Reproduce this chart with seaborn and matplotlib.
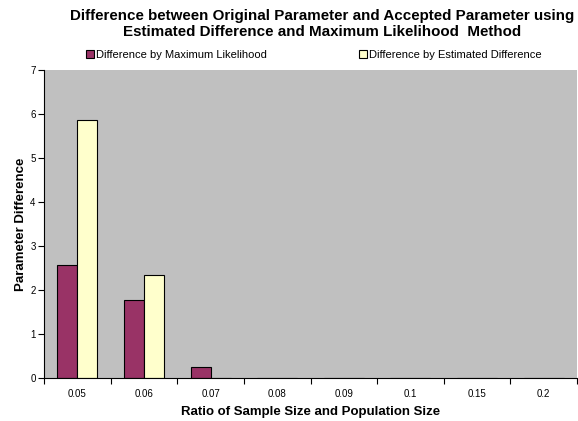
import matplotlib
matplotlib.use("Agg")
import matplotlib.pyplot as plt
import seaborn as sns
import pandas as pd
import numpy as np

categories = ["0.05", "0.06", "0.07", "0.08", "0.09", "0.1", "0.15", "0.2"]
ml_values = [2.56, 1.78, 0.26, 0, 0, 0, 0, 0]
ed_values = [5.87, 2.35, 0.01, 0, 0, 0, 0, 0]
series_names = ["Difference by Maximum Likelihood", "Difference by Estimated Difference"]
colors = ["#993366", "#FFFFCC"]

df = pd.DataFrame({
    "ratio": categories * 2,
    "value": ml_values + ed_values,
    "series": [series_names[0]] * len(categories) + [series_names[1]] * len(categories),
})

sns.set_theme(style="white")
plt.rcParams["font.family"] = ["Liberation Sans", "DejaVu Sans"]
plt.rcParams["text.color"] = "black"
plt.rcParams["axes.labelcolor"] = "black"
plt.rcParams["xtick.color"] = "black"
plt.rcParams["ytick.color"] = "black"

fig = plt.figure(figsize=(5.78, 4.21), dpi=100)
ax = fig.add_axes([44 / 578, 1 - 378 / 421, 533 / 578, (378 - 70) / 421])
ax.set_facecolor("#C0C0C0")

sns.barplot(data=df, x="ratio", y="value", hue="series", order=categories,
            hue_order=series_names, palette=colors, saturation=1, width=0.6, gap=0,
            edgecolor="black", linewidth=0.8, ax=ax, legend=True)

ax.set_ylim(0, 7)
ax.set_xlim(-0.5, len(categories) - 0.5)
ax.set_yticks(range(0, 8))
ax.tick_params(axis="y", which="major", length=4, width=0.8, color="black",
               direction="out", left=True, labelsize=7, pad=2)
ax.tick_params(axis="x", which="major", length=0, labelsize=7, pad=8)
ax.set_xticks(np.arange(-0.5, len(categories) + 0.5, 1), minor=True)
ax.tick_params(axis="x", which="minor", length=4, width=0.8, color="black",
               direction="out", bottom=True)
for s in ["top", "right"]:
    ax.spines[s].set_visible(False)
for s in ["left", "bottom"]:
    ax.spines[s].set_color("black")
    ax.spines[s].set_linewidth(0.8)
    ax.spines[s].set_zorder(5)

ax.set_xlabel("Ratio of Sample Size and Population Size", fontsize=9.5,
              fontweight="bold", labelpad=5)
ax.set_ylabel("Parameter Difference", fontsize=9.5, fontweight="bold", labelpad=2)

fig.text(322 / 578, 1 - 24 / 421,
         "Difference between Original Parameter and Accepted Parameter using\n"
         "Estimated Difference and Maximum Likelihood  Method",
         ha="center", va="center", fontsize=10.9, fontweight="bold", linespacing=1.2)

handles, labels = ax.get_legend_handles_labels()
ax.legend(handles, labels, loc="center left", bbox_to_anchor=(86 / 578, 1 - 55 / 421),
          bbox_transform=fig.transFigure, ncol=2, frameon=False, fontsize=8,
          handlelength=0.7, handleheight=0.7, handletextpad=0.2,
          columnspacing=8.3, borderaxespad=0, borderpad=0)

fig.savefig("out.png", dpi=100, facecolor="white")
